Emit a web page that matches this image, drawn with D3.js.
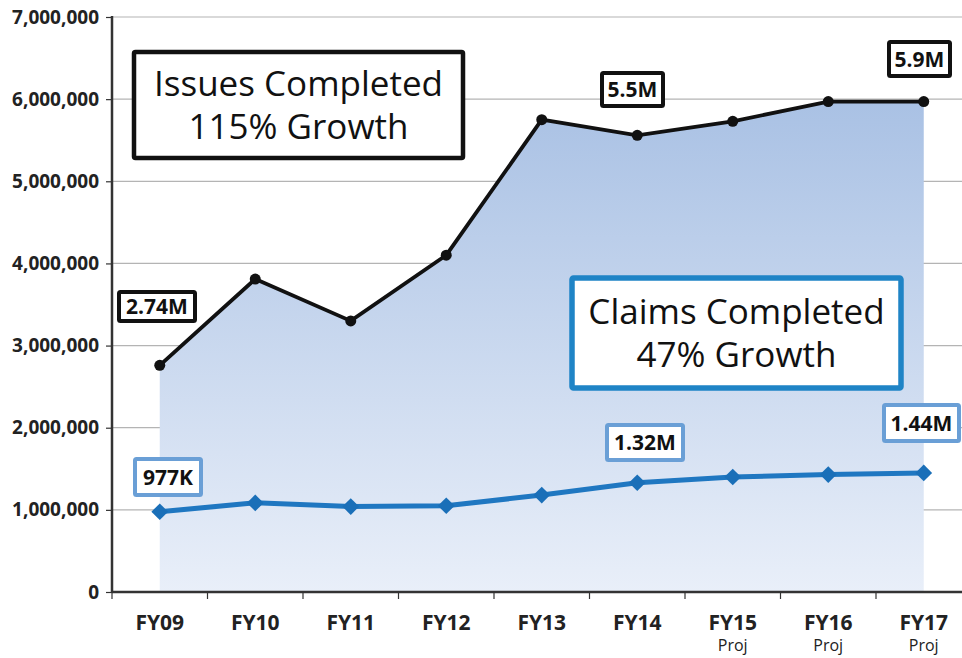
<!DOCTYPE html>
<html>
<head>
<meta charset="utf-8">
<script src="https://cdn.jsdelivr.net/npm/d3@7"></script>
<style>
  body { margin: 0; background: #fff; }
  svg { display: block; font-family: "Open Sans", "Noto Sans", sans-serif; }
</style>
</head>
<body>
<div id="chart"></div>
<script>
// data
const years = ["FY09", "FY10", "FY11", "FY12", "FY13", "FY14", "FY15", "FY16", "FY17"];
const subLabels = ["", "", "", "", "", "", "Proj", "Proj", "Proj"];
const issues = [2760000, 3810000, 3300000, 4100000, 5750000, 5560000, 5730000, 5970000, 5970000];
const claims = [977000, 1085000, 1040000, 1050000, 1180000, 1330000, 1400000, 1430000, 1450000];
const yTicks = [0, 1000000, 2000000, 3000000, 4000000, 5000000, 6000000, 7000000];

var width = 962;
var height = 658;

let svg = d3.select('#chart')
    .append('svg')
        .attr('width', width)
        .attr('height', height);

let xScale = d3.scaleBand()
    .domain(years)
    .range([112, 112 + 9 * 95.5]);

let yScale = d3.scaleLinear()
    .domain([0, 7000000])
    .range([592, 17]);

let cx = d => xScale(d) + xScale.bandwidth() / 2;

// gridlines (the area covers them)
svg.append('g')
    .selectAll('line')
    .data(yTicks.slice(1))
    .enter().append('line')
        .attr('x1', 112).attr('x2', width)
        .attr('y1', d => yScale(d)).attr('y2', d => yScale(d))
        .attr('stroke', '#b4b4b4')
        .attr('stroke-width', 1.2);

// gradient for the issues area
svg.append('linearGradient')
    .attr('id', 'area-gradient')
    .attr('gradientUnits', 'userSpaceOnUse')
    .attr('x1', 0).attr('y1', yScale(6000000))
    .attr('x2', 0).attr('y2', yScale(0))
  .selectAll('stop')
    .data([
        {offset: '0%', color: '#a9c1e4'},
        {offset: '100%', color: '#e9eff9'}
    ])
  .enter().append('stop')
    .attr('offset', d => d.offset)
    .attr('stop-color', d => d.color);

let area = d3.area()
    .x((d, i) => cx(years[i]))
    .y0(yScale(0))
    .y1(d => yScale(d));

svg.append('path')
    .datum(issues)
    .attr('fill', 'url(#area-gradient)')
    .attr('d', area);

// axes
let yAxis = d3.axisLeft(yScale)
    .tickValues(yTicks)
    .tickFormat(d3.format(','))
    .tickSize(6)
    .tickPadding(7);
let gy = svg.append('g')
    .attr('transform', 'translate(112,0)')
    .call(yAxis);
gy.select('.domain').remove();
gy.selectAll('line').attr('stroke', '#333').attr('stroke-width', 1.2);
gy.selectAll('text')
    .attr('font-size', '19px')
    .attr('font-weight', 'bold')
    .attr('fill', '#222')
    .attr('font-family', '"Open Sans", sans-serif');

svg.append('line')
    .attr('x1', 112).attr('x2', 112)
    .attr('y1', yScale(7000000) - 1).attr('y2', yScale(0) + 1)
    .attr('stroke', '#333').attr('stroke-width', 2.5);

svg.append('line')
    .attr('x1', 112).attr('x2', width)
    .attr('y1', yScale(0)).attr('y2', yScale(0))
    .attr('stroke', '#333').attr('stroke-width', 2.5);

// category boundary ticks
svg.append('g')
    .selectAll('line')
    .data(years)
    .enter().append('line')
        .attr('x1', d => xScale(d)).attr('x2', d => xScale(d))
        .attr('y1', yScale(0)).attr('y2', yScale(0) + 7)
        .attr('stroke', '#333').attr('stroke-width', 1.2);

let xl = svg.append('g');
xl.selectAll('text.yr')
    .data(years)
    .enter().append('text')
        .attr('class', 'yr')
        .attr('x', d => cx(d))
        .attr('y', 630)
        .attr('text-anchor', 'middle')
        .attr('font-size', '21px')
        .attr('font-weight', 'bold')
        .attr('fill', '#222')
        .text(d => d);
xl.selectAll('text.sub')
    .data(subLabels)
    .enter().append('text')
        .attr('class', 'sub')
        .attr('x', (d, i) => cx(years[i]))
        .attr('y', 651)
        .attr('text-anchor', 'middle')
        .attr('font-size', '16px')
        .attr('fill', '#222')
        .text(d => d);

// issues line
let line = d3.line()
    .x((d, i) => cx(years[i]))
    .y(d => yScale(d));

svg.append('path')
    .datum(issues)
    .attr('fill', 'none')
    .attr('stroke', '#111')
    .attr('stroke-width', 3.8)
    .attr('d', line);

svg.selectAll('circle.iss')
    .data(issues)
    .enter().append('circle')
        .attr('class', 'iss')
        .attr('cx', (d, i) => cx(years[i]))
        .attr('cy', d => yScale(d))
        .attr('r', 5.5)
        .attr('fill', '#111');

// claims line
svg.append('path')
    .datum(claims)
    .attr('fill', 'none')
    .attr('stroke', '#1f77c1')
    .attr('stroke-width', 5)
    .attr('d', line);

svg.selectAll('path.dia')
    .data(claims)
    .enter().append('path')
        .attr('class', 'dia')
        .attr('d', d3.symbol().type(d3.symbolSquare).size(140))
        .attr('transform', (d, i) => 'translate(' + cx(years[i]) + ',' + yScale(d) + ') rotate(45)')
        .attr('fill', '#1a6fb8');

// annotation boxes
function box(x, y, w, h, stroke, sw, lines, size, weight, lineGap) {
    let g = svg.append('g');
    g.append('rect')
        .attr('x', x).attr('y', y)
        .attr('width', w).attr('height', h)
        .attr('fill', '#fff')
        .attr('stroke', stroke)
        .attr('stroke-width', sw)
        .attr('rx', 1.5);
    let n = lines.length;
    let txt = g.append('text')
        .attr('text-anchor', 'middle')
        .attr('font-size', size + 'px')
        .attr('font-weight', weight)
        .attr('fill', '#111');
    lines.forEach(function (t, i) {
        txt.append('tspan')
            .attr('x', x + w / 2)
            .attr('y', y + h / 2 + (i - (n - 1) / 2) * lineGap)
            .attr('dy', '0.36em')
            .text(t);
    });
}

box(134, 52, 329, 106, '#111', 4.5, ['Issues Completed', '115% Growth'], 35, 'normal', 43);
box(572, 278, 329, 110, '#1f84c6', 5.5, ['Claims Completed', '47% Growth'], 35, 'normal', 43);

box(119, 292, 76, 29, '#111', 4, ['2.74M'], 21, 'bold', 0);
box(602, 73, 61, 33, '#111', 4, ['5.5M'], 21, 'bold', 0);
box(889, 42, 61, 34, '#111', 4, ['5.9M'], 21, 'bold', 0);

box(135, 459, 66, 36, '#6a9fd6', 4, ['977K'], 21, 'bold', 0);
box(607, 425, 76, 35, '#6a9fd6', 4, ['1.32M'], 21, 'bold', 0);
box(884, 405, 75, 36, '#6a9fd6', 4, ['1.44M'], 21, 'bold', 0);
</script>
</body>
</html>
